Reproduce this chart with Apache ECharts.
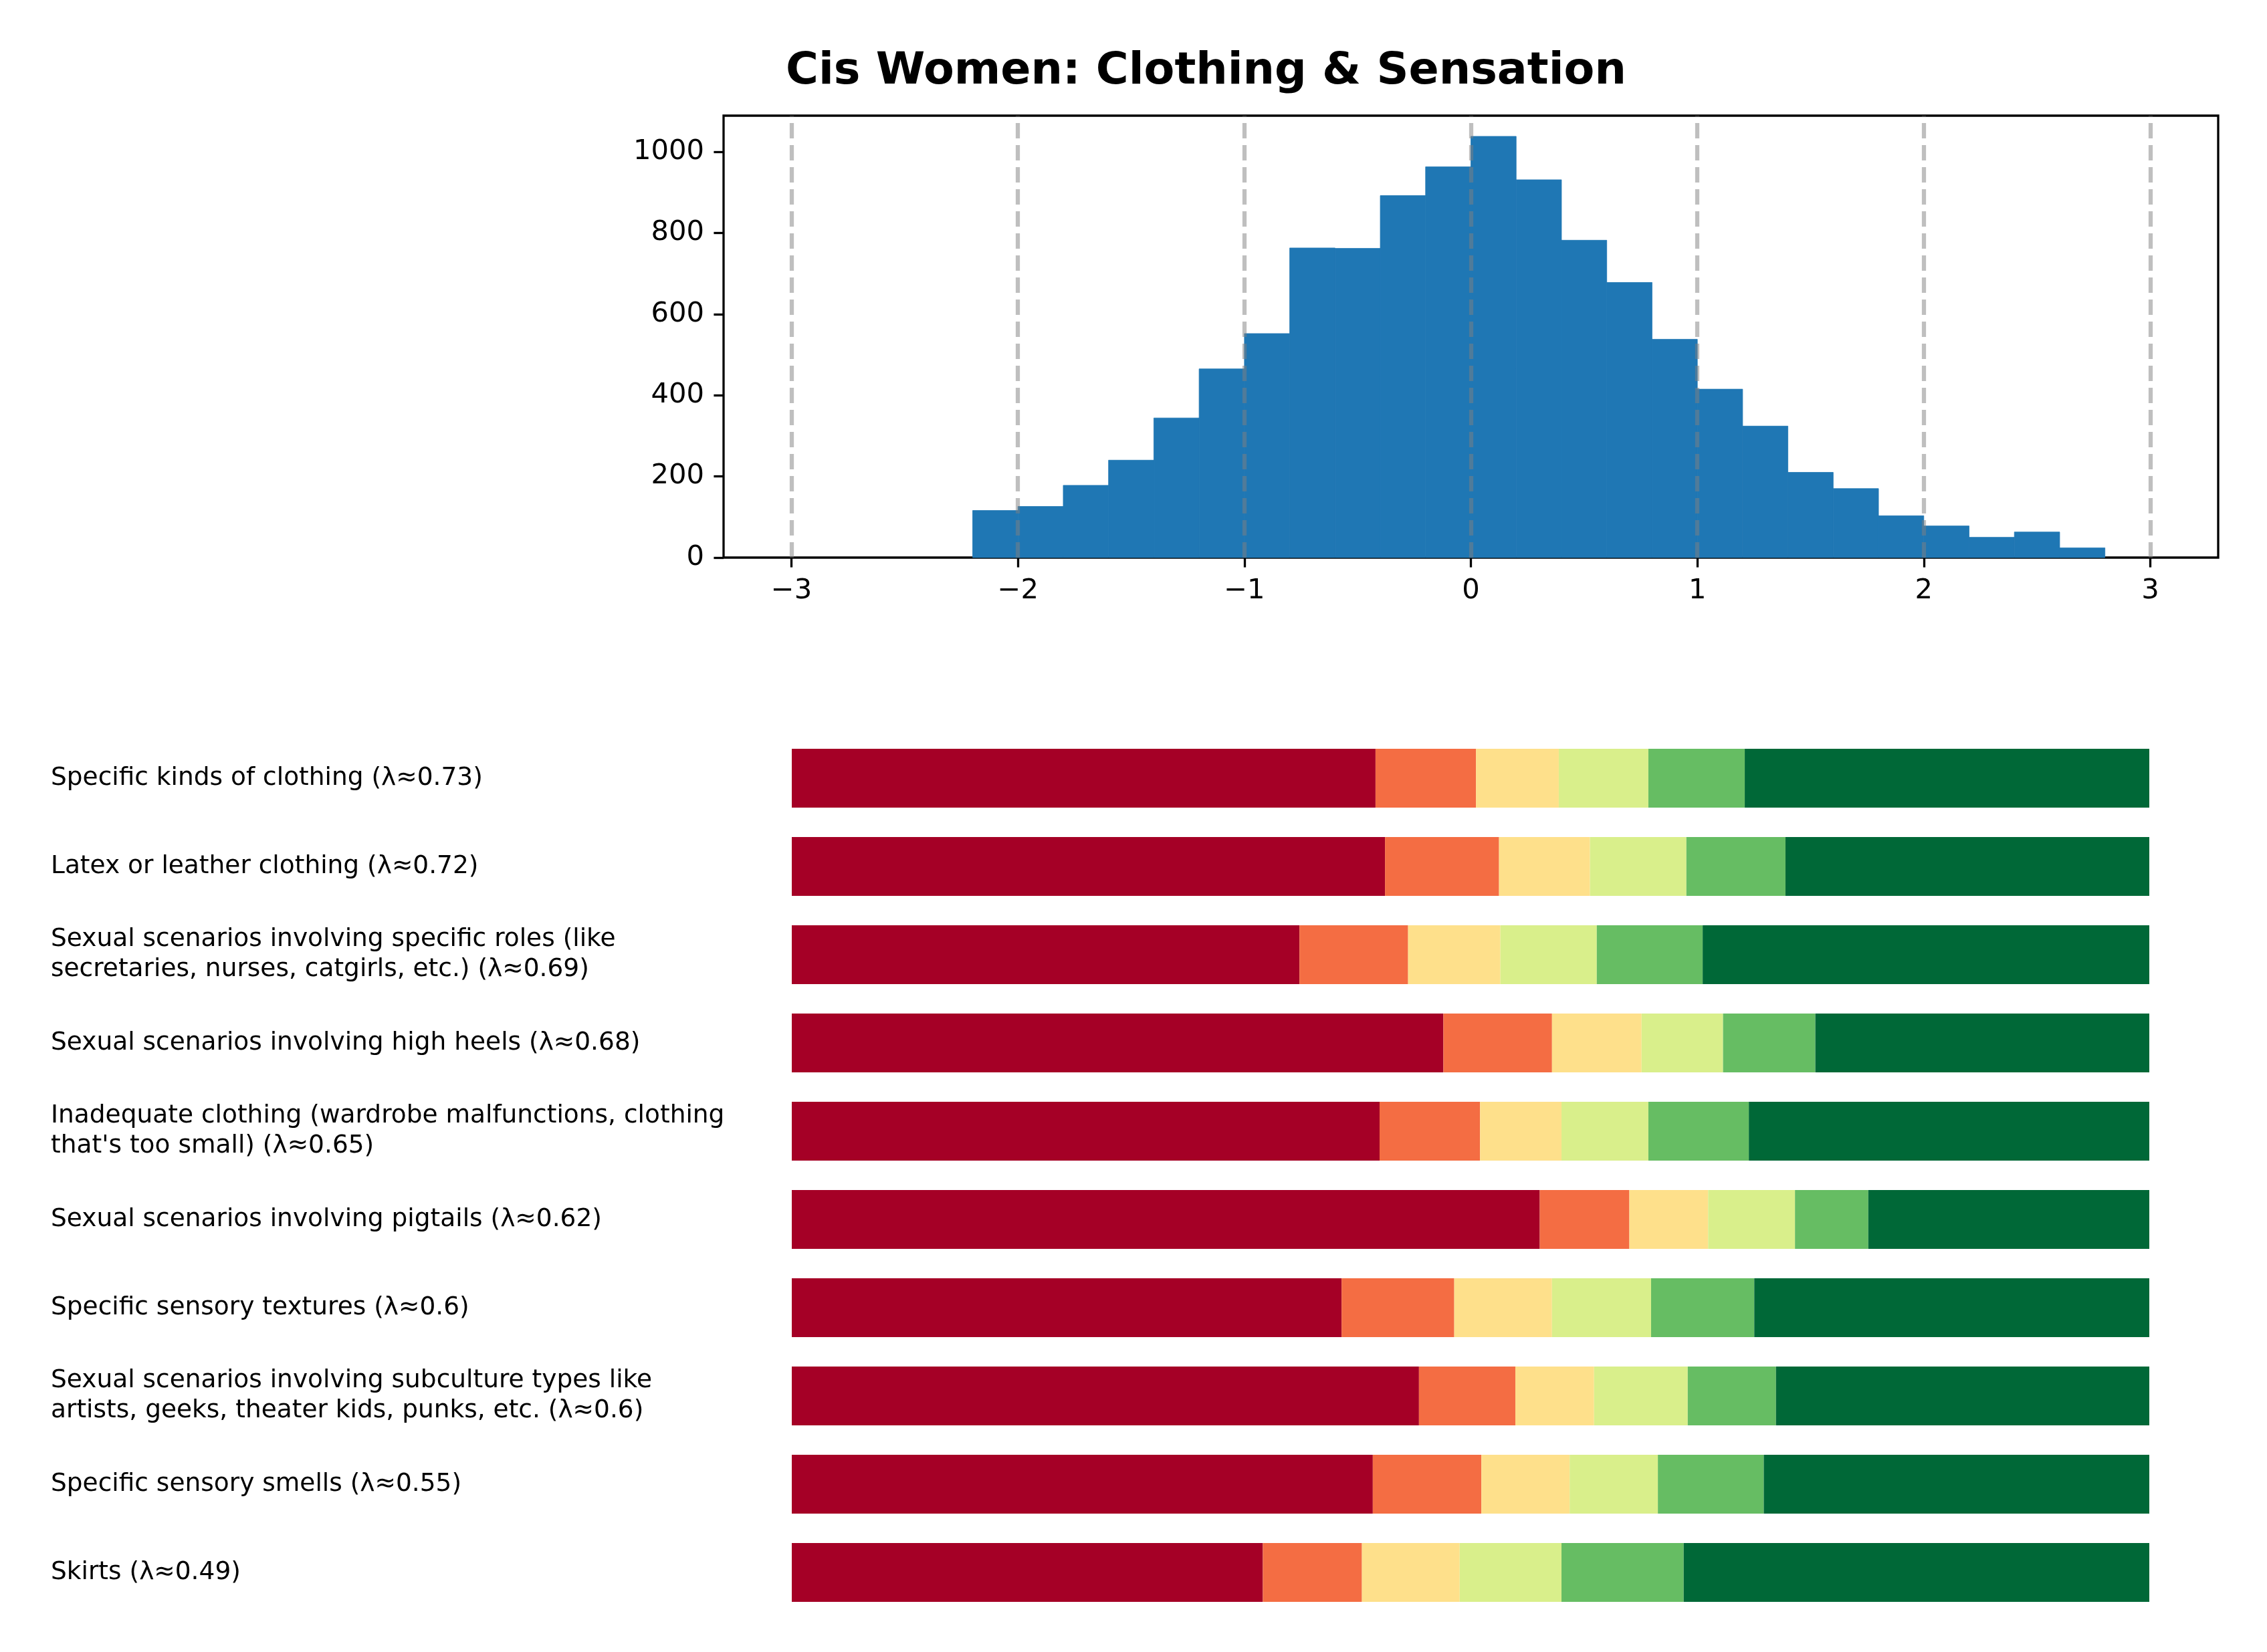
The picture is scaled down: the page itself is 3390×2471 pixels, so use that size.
<!DOCTYPE html>
<html>
<head>
<meta charset="utf-8">
<script src="https://cdn.jsdelivr.net/npm/echarts@6/dist/echarts.min.js"></script>
<style>
html,body{margin:0;padding:0;background:#fff;}
#chart{width:3390px;height:2471px;}
</style>
</head>
<body>
<div id="chart"></div>
<script>
// ---- Histogram data ----
const binLeft = [-2.2,-2.0,-1.8,-1.6,-1.4,-1.2,-1.0,-0.8,-0.6,-0.4,-0.2,0.0,0.2,0.4,0.6,0.8,1.0,1.2,1.4,1.6,1.8,2.0,2.2,2.4,2.6];
const binWidth = 0.2;
const counts = [116,126,178,240,344,465,552,763,762,892,963,1038,931,782,678,538,415,324,210,170,103,78,50,63,24];
const xTicks = [-3,-2,-1,0,1,2,3];
const yTicks = [0,200,400,600,800,1000];
const vLines = [-3,-2,-1,0,1,2,3];

// ---- Stacked bar data (percent of responses) ----
const categories = [
  "Specific kinds of clothing (λ≈0.73)",
  "Latex or leather clothing (λ≈0.72)",
  "Sexual scenarios involving specific roles (like\nsecretaries, nurses, catgirls, etc.) (λ≈0.69)",
  "Sexual scenarios involving high heels (λ≈0.68)",
  "Inadequate clothing (wardrobe malfunctions, clothing\nthat's too small) (λ≈0.65)",
  "Sexual scenarios involving pigtails (λ≈0.62)",
  "Specific sensory textures (λ≈0.6)",
  "Sexual scenarios involving subculture types like\nartists, geeks, theater kids, punks, etc. (λ≈0.6)",
  "Specific sensory smells (λ≈0.55)",
  "Skirts (λ≈0.49)"
];
const seg1 = [43.0,43.7,37.4,48.0,43.3,55.1,40.5,46.2,42.8,34.7];
const seg2 = [7.4,8.4,8.0,8.0,7.4,6.6,8.3,7.1,8.0,7.3];
const seg3 = [6.1,6.7,6.8,6.6,6.0,5.8,7.2,5.8,6.5,7.2];
const seg4 = [6.6,7.1,7.1,6.0,6.4,6.4,7.3,6.9,6.5,7.5];
const seg5 = [7.1,7.3,7.8,6.8,7.4,5.4,7.6,6.5,7.8,9.0];
const seg6 = [29.8,26.8,32.9,24.6,29.5,20.7,29.1,27.5,28.4,34.3];
const segColors = ['#a50026','#f46d43','#fee08b','#d9ef8b','#66bd63','#006837'];

const FONT = '"DejaVu Sans", "Liberation Sans", sans-serif';
const chart = echarts.init(document.getElementById('chart'), null, {renderer:'canvas'});

const histData = binLeft.map((x, i) => [x, x + binWidth, counts[i]]);
const segs = [seg1, seg2, seg3, seg4, seg5, seg6];

const option = {
  backgroundColor: '#ffffff',
  animation: false,
  graphic: [{
    type: 'text',
    x: 1175, y: 108,
    style: {
      text: 'Cis Women: Clothing & Sensation',
      font: 'bold 66.7px ' + FONT,
      fill: '#000',
      textAlign: 'left',
      textVerticalAlign: 'middle'
    }
  }],
  grid: [
    {left: 1082, top: 173, width: 2235, height: 661, show: true, borderColor: '#000', borderWidth: 3.3, backgroundColor: 'transparent'},
    {left: 1184, top: 1098, width: 2030, height: 1320, show: false}
  ],
  xAxis: [
    {
      gridIndex: 0, type: 'value', min: -3.3, max: 3.3, position: 'bottom',
      axisLine: {show: false, onZero: false},
      splitLine: {show: false},
      axisTick: {show: true, length: 14.6, inside: false, customValues: xTicks, lineStyle: {color: '#000', width: 3.3}},
      axisLabel: {show: true, customValues: xTicks, margin: 29, fontSize: 41.7, fontFamily: FONT, color: '#000',
        formatter: v => String(v).replace('-', '\u2212')}
    },
    {gridIndex: 1, type: 'value', min: 0, max: 100, show: false}
  ],
  yAxis: [
    {
      gridIndex: 0, type: 'value', min: 0, max: 1089, position: 'left',
      axisLine: {show: false, onZero: false},
      splitLine: {show: false},
      axisTick: {show: true, length: 14.6, inside: false, customValues: yTicks, lineStyle: {color: '#000', width: 3.3}},
      axisLabel: {show: true, customValues: yTicks, margin: 29, fontSize: 41.7, fontFamily: FONT, color: '#000',
        formatter: v => String(v)}
    },
    {
      gridIndex: 1, type: 'category', data: categories, inverse: true,
      axisLine: {show: false}, axisTick: {show: false}, splitLine: {show: false},
      axisLabel: {show: true, interval: 0, align: 'left', margin: 1108, fontSize: 37.5, lineHeight: 45,
        fontFamily: FONT, color: '#000'}
    }
  ],
  series: [
    {
      type: 'custom',
      xAxisIndex: 0, yAxisIndex: 0,
      data: histData,
      encode: {x: [0, 1], y: 2},
      renderItem: function (params, api) {
        const p0 = api.coord([api.value(0), api.value(2)]);
        const p1 = api.coord([api.value(1), 0]);
        return {
          type: 'rect',
          shape: {x: p0[0], y: p0[1], width: p1[0] - p0[0], height: p1[1] - p0[1]},
          style: {fill: '#1f77b4', stroke: '#1f77b4', lineWidth: 0.8}
        };
      },
      markLine: {
        silent: true,
        symbol: ['none', 'none'],
        z: 10,
        label: {show: false},
        lineStyle: {color: 'rgba(128,128,128,0.5)', width: 6.25, type: [23, 10]},
        data: vLines.map(v => ({xAxis: v}))
      }
    }
  ].concat(segs.map((s, k) => ({
    type: 'bar',
    xAxisIndex: 1, yAxisIndex: 1,
    stack: 'total',
    data: s,
    barWidth: 88,
    itemStyle: {color: segColors[k]},
    silent: true
  })))
};
chart.setOption(option);
</script>
</body>
</html>
